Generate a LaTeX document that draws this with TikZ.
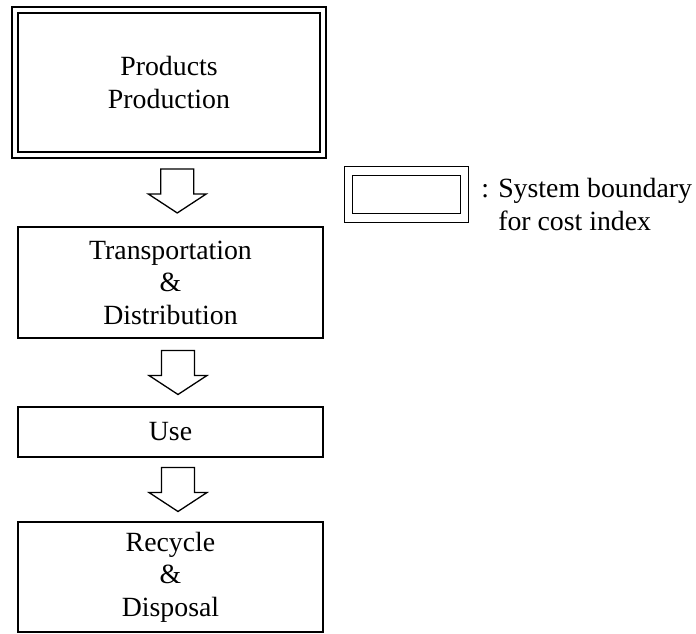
\documentclass[tikz,border=0pt]{standalone}
\usepackage{fontspec}
\setmainfont{Liberation Serif}
\usetikzlibrary{calc}

\tikzset{
  every node/.style={font=\fontsize{27.8}{32.5}\selectfont},
  stage/.style={draw, line width=1.3pt, align=center, minimum width=305pt, inner sep=0pt},
  bound/.style={draw, double, line width=1.2pt, align=center, inner sep=0pt},
  flow/.style={draw, line width=1.3pt, fill=white},
}

% hollow block arrow in the gap between two stages
\newcommand\flowarrow[2]{%
  \coordinate (m) at ($(#1.south)!0.5!(#2.north)+(7.5,0)$);
  \draw[flow] ($(m)+(-16.5,22)$) -- ++(0,-25) -- ++(-12.5,0) -- ++(29,-19)
    -- ++(29,19) -- ++(-12.5,0) -- ++(0,25) -- cycle;
}

\begin{document}
\begin{tikzpicture}[x=1pt, y=1pt]
  \useasboundingbox (0,0) rectangle (696,634);

  \node [bound, double distance=4.8pt, minimum width=308pt, minimum height=145pt]
    (prod) at (169,551.5) {Products\\Production};
  \node [stage, minimum height=111pt] (trans) at (170.5,351.5) {Transportation\\\&\\Distribution};
  \node [stage, minimum height=50pt] (use) at (170.5,202) {Use};
  \node [stage, minimum height=110pt] (recyc) at (170.5,57) {Recycle\\\&\\Disposal};

  \foreach \a/\b in {prod/trans, trans/use, use/recyc}
    \flowarrow{\a}{\b};

  % legend
  \node [bound, double distance=7.5pt, minimum width=116pt, minimum height=47pt]
    (legend) at (406.5,439.5) {};
  \node [anchor=west, align=left, inner sep=0pt] (note) at ($(legend.east)+(16,-10)$)
    {: System boundary\\\phantom{: }for cost index};
\end{tikzpicture}
\end{document}
